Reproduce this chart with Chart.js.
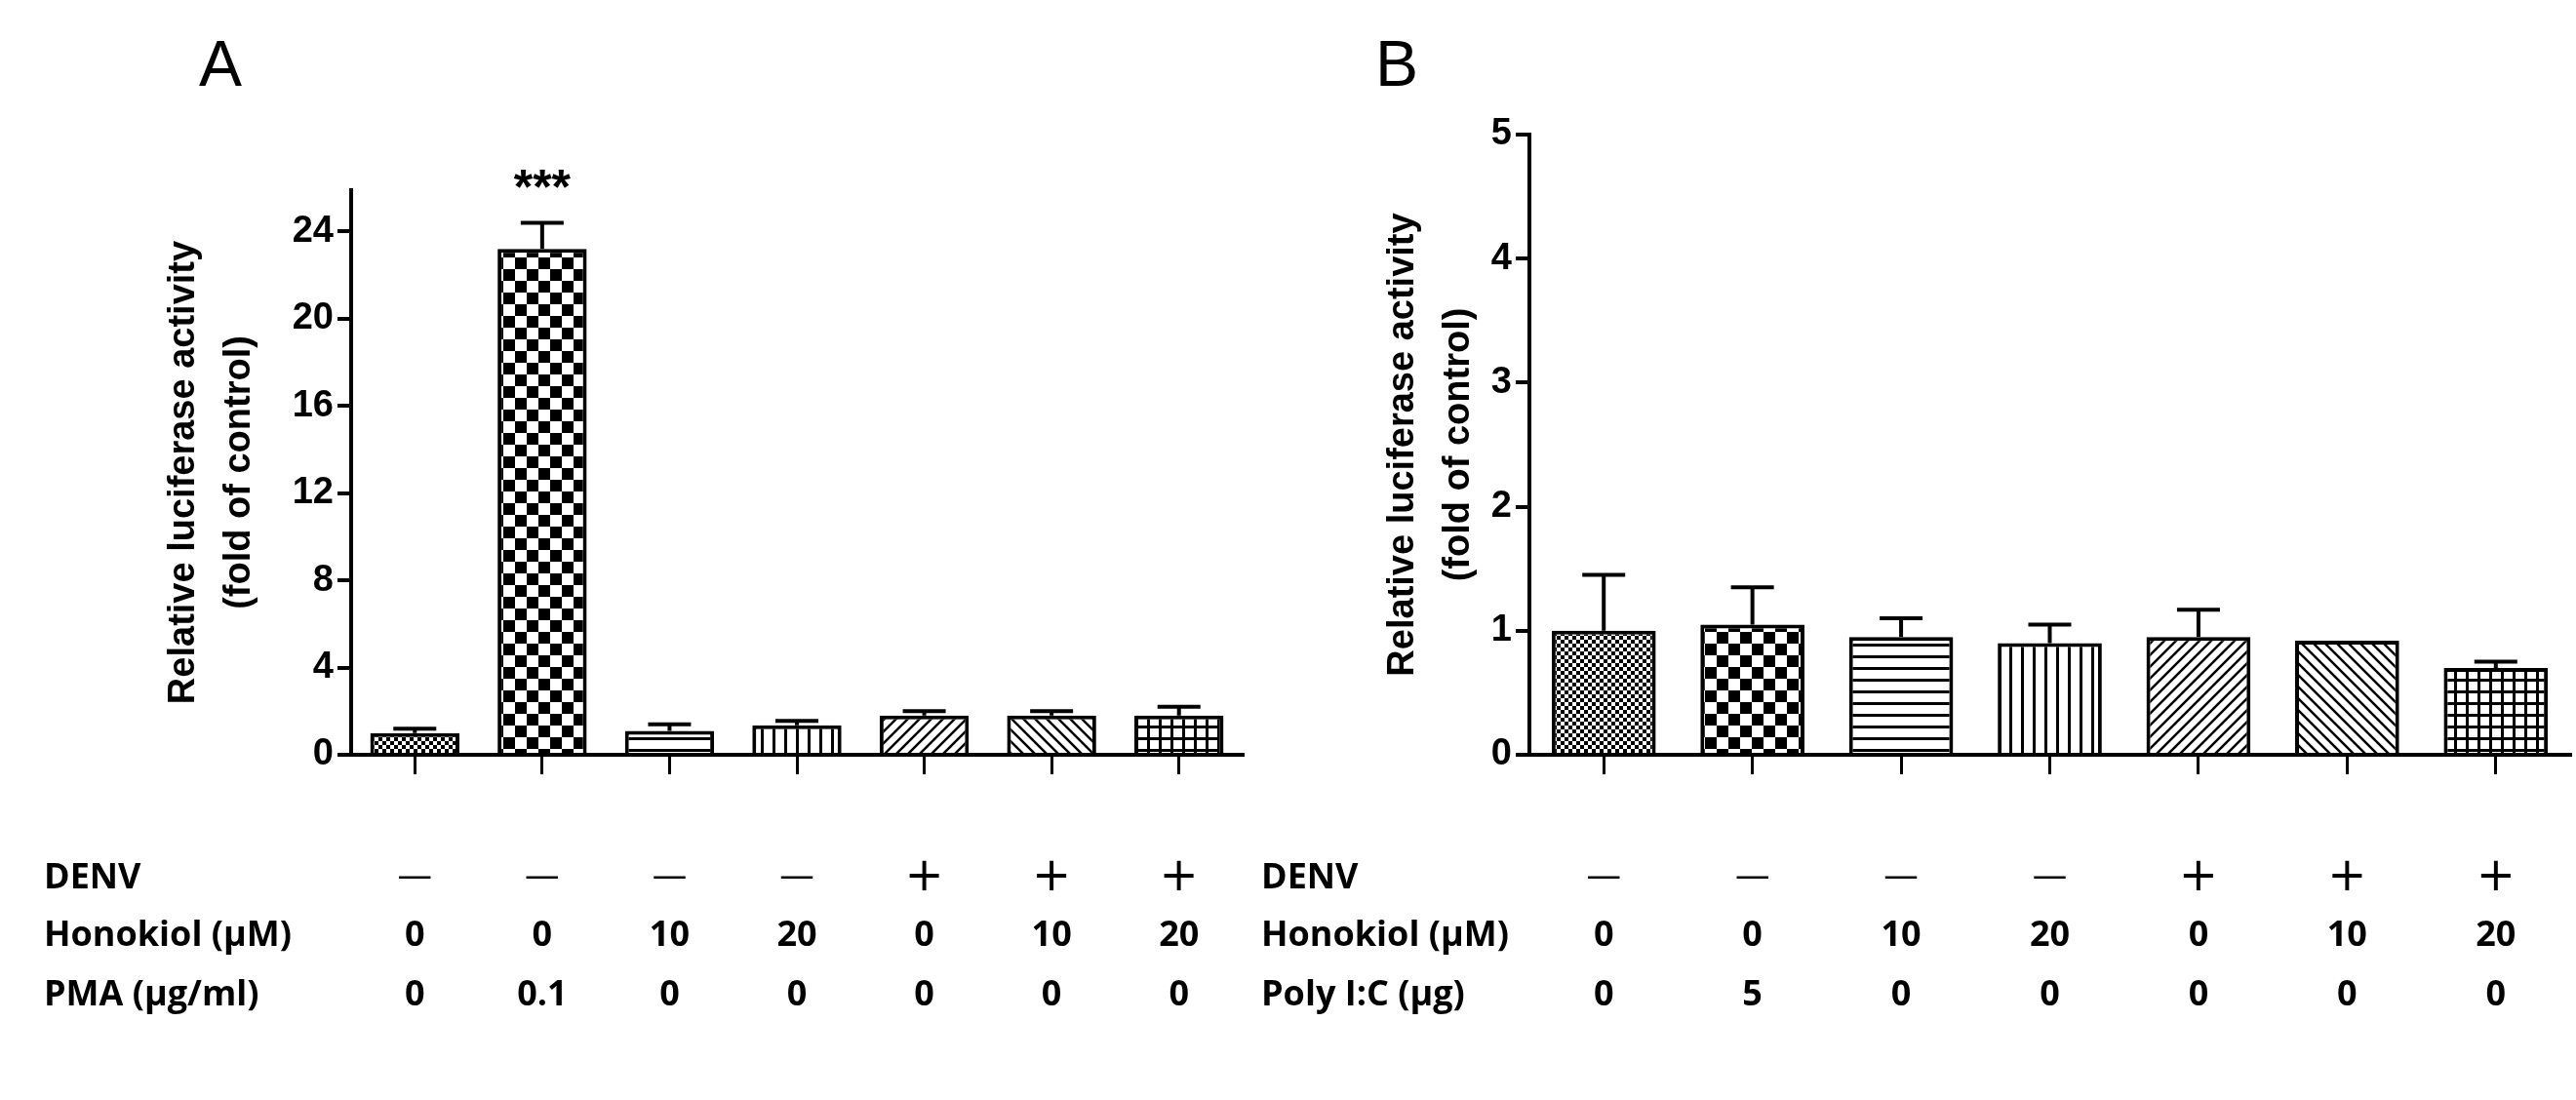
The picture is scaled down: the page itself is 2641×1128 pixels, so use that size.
<!DOCTYPE html>
<html><head><meta charset="utf-8">
<script src="https://cdn.jsdelivr.net/npm/chart.js@4/dist/chart.umd.min.js"></script>
<style>html,body{margin:0;background:#fff;width:2641px;height:1128px;overflow:hidden}
canvas{position:absolute;top:0}</style></head>
<body>
<div id="wa" style="position:absolute;left:0;top:0;width:1280px;height:1128px"><canvas id="ca"></canvas></div>
<div id="wb" style="position:absolute;left:1280px;top:0;width:1361px;height:1128px"><canvas id="cb"></canvas></div>
<script>
const categories = ['1','2','3','4','5','6','7'];
const valuesA = [1.0, 23.2, 1.1, 1.35, 1.8, 1.8, 1.8];
const errorsA = [0.2, 1.2, 0.3, 0.2, 0.2, 0.2, 0.4];
const valuesB = [1.0, 1.05, 0.95, 0.9, 0.95, 0.92, 0.7];
const errorsB = [0.45, 0.3, 0.15, 0.15, 0.22, 0.0, 0.05];
const denvRow = ['—','—','—','—','+','+','+'];
const honokiolRow = ['0','0','10','20','0','10','20'];
const pmaRow = ['0','0.1','0','0','0','0','0'];
const polyRow = ['0','5','0','0','0','0','0'];
const ticksA = [0,4,8,12,16,20,24];
const ticksB = [0,1,2,3,4,5];

function pat(type){
  const c=document.createElement('canvas');
  const s = type==='fine'?8:type==='check'?24:12;
  c.width=s;c.height=s;const g=c.getContext('2d');
  g.fillStyle='#fff';g.fillRect(0,0,s,s);g.fillStyle='#000';g.strokeStyle='#000';
  if(type==='fine'){g.fillRect(0,0,4,4);g.fillRect(4,4,4,4);}
  else if(type==='check'){g.fillRect(0,0,12,12);g.fillRect(12,12,12,12);}
  else if(type==='h'){g.fillRect(0,0,s,3);}
  else if(type==='v'){g.fillRect(0,0,3,s);}
  else if(type==='grid'){g.fillRect(0,0,s,3);g.fillRect(0,0,3,s);}
  else if(type==='d1'){g.lineWidth=2.5;g.beginPath();g.moveTo(0,s);g.lineTo(s,0);g.moveTo(-s,s);g.lineTo(s,-s);g.moveTo(0,2*s);g.lineTo(2*s,0);g.stroke();}
  else if(type==='d2'){g.lineWidth=2.5;g.beginPath();g.moveTo(0,0);g.lineTo(s,s);g.moveTo(-s,0);g.lineTo(s,2*s);g.moveTo(0,-s);g.lineTo(2*s,s);g.stroke();}
  return g.createPattern(c,'repeat');
}
const pats = ['fine','check','h','v','d1','d2','grid'].map(pat);

function make(id, vals, errs, max, ticks, padLeft, yWidth, padTop, rowLabels, rows, letter, isA, stars){
  const plugin={id:'extra'+id,
    afterDatasetsDraw(ch){
      const g=ch.ctx,x=ch.scales.x,y=ch.scales.y;
      g.save();g.strokeStyle='#000';g.lineWidth=4;
      vals.forEach((v,i)=>{
        if(!errs[i])return;
        const px=x.getPixelForValue(i),y0=y.getPixelForValue(v),y1=y.getPixelForValue(v+errs[i]);
        g.beginPath();g.moveTo(px,y0);g.lineTo(px,y1);g.moveTo(px-22,y1);g.lineTo(px+22,y1);g.stroke();
      });
      if(stars!==null){
        const px=x.getPixelForValue(stars);
        g.fillStyle='#000';g.font='bold 50px "Liberation Sans"';g.textAlign='center';g.textBaseline='bottom';
        g.fillText('***',px,y.getPixelForValue(vals[stars]+errs[stars])-8);
      }
      g.restore();
    },
    afterDraw(ch){
      const g=ch.ctx,x=ch.scales.x;
      g.save();g.fillStyle='#000';g.textBaseline='middle';
      const rowY=[901,960,1021];
      g.font='bold 36px "Open Sans"';
      rows.forEach((r,j)=>{
        g.textAlign='left';g.fillText(rowLabels[j],isA?45:13,rowY[j]);
        g.textAlign='center';
        r.forEach((t,i)=>{
          if(t==='—'){g.font='36px "DejaVu Sans"';}else if(t==='+'){g.font='48px "DejaVu Sans"';}else g.font='bold 36px "Open Sans"';
          g.fillText(t,x.getPixelForValue(i),rowY[j]);
          g.font='bold 36px "Open Sans"';
        });
      });
      g.font='66px "Liberation Sans"';g.textAlign='center';g.textBaseline='alphabetic';
      g.fillText(letter,isA?226:152,88);
      g.restore();
    }};
  return new Chart(document.getElementById(id),{type:'bar',
    data:{labels:categories,datasets:[{data:vals,backgroundColor:pats,borderColor:'#000',borderWidth:4,barPercentage:0.7,categoryPercentage:1}]},
    plugins:[plugin],
    options:{responsive:true,maintainAspectRatio:false,animation:false,
      layout:{padding:{left:padLeft,top:padTop,right:6,bottom:328}},
      plugins:{legend:{display:false},tooltip:{enabled:false}},
      scales:{
        x:{grid:{display:true,offset:false,drawOnChartArea:false,drawTicks:true,tickLength:20,color:'#000',lineWidth:3},
           border:{color:'#000',width:4},ticks:{callback:()=>'',font:{size:1}},afterFit:s=>{s.height=26;}},
        y:{min:0,max:max,afterBuildTicks:s=>{s.ticks=ticks.map(v=>({value:v}));},
           grid:{drawOnChartArea:false,drawTicks:true,tickLength:14,color:'#000',lineWidth:4},
           border:{color:'#000',width:4},
           ticks:{color:'#000',padding:4,font:{family:'"Liberation Sans Narrow","Liberation Sans"',weight:'bold',size:38}},
           title:{display:true,text:['Relative luciferase activity','(fold of control)'],color:'#000',padding:0,font:{family:'"Liberation Sans"',weight:'bold',size:38,lineHeight:1.5}},
           afterFit:s=>{s.width=yWidth;}}
      }}});
}
make('ca',valuesA,errorsA,25.9,ticksA,160,200,195,['DENV','Honokiol (μM)','PMA (μg/ml)'],[denvRow,honokiolRow,pmaRow],'A',true,1);
make('cb',valuesB,errorsB,5,ticksB,130,158,138,['DENV','Honokiol (μM)','Poly I:C (μg)'],[denvRow,honokiolRow,polyRow],'B',false,null);
</script></body></html>
